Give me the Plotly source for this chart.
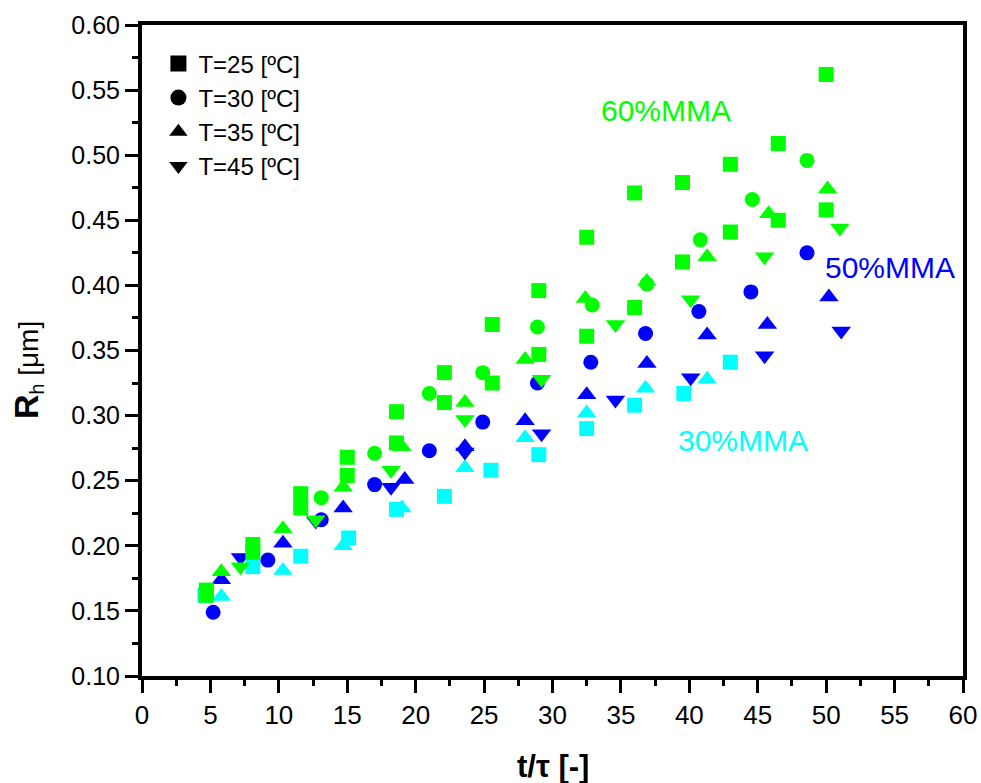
import plotly.graph_objects as go

# ---- data: hydrodynamic radius R_h [um] vs reduced time t/tau ----
# 60% MMA (green)
g60_sq_x = [4.7, 4.7, 8.1, 8.1, 11.6, 11.6, 15.0, 15.0, 18.6, 18.6, 22.1, 22.1, 25.6, 25.6,
            29.0, 29.0, 32.5, 32.5, 36.0, 36.0, 39.5, 39.5, 43.0, 43.0, 46.5, 46.5, 50.0, 50.0]
g60_sq_y = [0.166, 0.162, 0.201, 0.195, 0.240, 0.229, 0.268, 0.254, 0.303, 0.279, 0.333, 0.310,
            0.370, 0.325, 0.396, 0.347, 0.437, 0.361, 0.471, 0.383, 0.479, 0.418, 0.493, 0.441,
            0.509, 0.450, 0.562, 0.458]
g60_ci_x = [13.1, 17.0, 21.0, 24.9, 28.9, 32.9, 36.9, 40.8, 44.6, 48.6]
g60_ci_y = [0.237, 0.271, 0.317, 0.333, 0.368, 0.385, 0.401, 0.435, 0.466, 0.496]
g60_tu_x = [5.8, 10.3, 14.7, 19.0, 23.6, 28.0, 32.4, 36.9, 41.3, 45.8, 50.1]
g60_tu_y = [0.180, 0.213, 0.245, 0.276, 0.310, 0.343, 0.390, 0.403, 0.422, 0.455, 0.474]
g60_td_x = [7.2, 12.7, 18.2, 23.6, 29.2, 34.6, 40.1, 45.5, 51.0]
g60_td_y = [0.184, 0.220, 0.258, 0.297, 0.328, 0.370, 0.389, 0.422, 0.444]

# 50% MMA (blue)
b50_ci_x = [5.2, 9.2, 13.1, 17.0, 21.0, 24.9, 28.9, 32.8, 36.8, 40.7, 44.5, 48.6]
b50_ci_y = [0.149, 0.189, 0.220, 0.247, 0.273, 0.295, 0.325, 0.341, 0.363, 0.380, 0.395, 0.425]
b50_tu_x = [5.8, 10.3, 14.7, 19.2, 23.6, 28.0, 32.5, 36.9, 41.3, 45.7, 50.2]
b50_tu_y = [0.174, 0.202, 0.229, 0.251, 0.276, 0.296, 0.316, 0.340, 0.362, 0.370, 0.391]
b50_td_x = [7.2, 12.7, 18.2, 23.6, 29.2, 34.6, 40.1, 45.5, 51.1]
b50_td_y = [0.191, 0.219, 0.245, 0.272, 0.286, 0.312, 0.329, 0.346, 0.365]

# 30% MMA (cyan)
c30_sq_x = [4.6, 8.1, 11.6, 15.1, 18.6, 22.1, 25.5, 29.0, 32.5, 36.0, 39.6, 43.0]
c30_sq_y = [0.162, 0.184, 0.192, 0.206, 0.228, 0.238, 0.258, 0.270, 0.290, 0.308, 0.317, 0.341]
c30_tu_x = [5.8, 10.3, 14.7, 19.0, 23.6, 28.0, 32.5, 36.8, 41.3]
c30_tu_y = [0.161, 0.181, 0.200, 0.229, 0.260, 0.283, 0.302, 0.321, 0.328]

legend_names = ["T=25 [ºC]", "T=30 [ºC]", "T=35 [ºC]", "T=45 [ºC]"]
legend_symbols = ["square", "circle", "triangle-up", "triangle-down"]

GREEN, BLUE, CYAN = "#00FF00", "#0000FF", "#00FFFF"
SIZES = {"square": 15, "circle": 15, "triangle-up": 17, "triangle-down": 17}
FONT = "Liberation Sans, Arial"

fig = go.Figure()


def add_points(x, y, color, symbol):
    fig.add_trace(go.Scatter(
        x=x, y=y, mode="markers", showlegend=False, hoverinfo="skip",
        marker=dict(symbol=symbol, size=SIZES[symbol], color=color,
                    line=dict(width=0)),
    ))


# draw order: cyan first, then blue, then green on top
add_points(c30_sq_x, c30_sq_y, CYAN, "square")
add_points(c30_tu_x, c30_tu_y, CYAN, "triangle-up")
add_points(b50_ci_x, b50_ci_y, BLUE, "circle")
add_points(b50_tu_x, b50_tu_y, BLUE, "triangle-up")
add_points(b50_td_x, b50_td_y, BLUE, "triangle-down")
add_points(g60_sq_x, g60_sq_y, GREEN, "square")
add_points(g60_ci_x, g60_ci_y, GREEN, "circle")
add_points(g60_tu_x, g60_tu_y, GREEN, "triangle-up")
add_points(g60_td_x, g60_td_y, GREEN, "triangle-down")

# black-symbol legend keyed by temperature
for name, sym in zip(legend_names, legend_symbols):
    fig.add_trace(go.Scatter(
        x=[None], y=[None], mode="markers", name=name,
        marker=dict(symbol=sym, size=16, color="black", line=dict(width=0)),
    ))

# composition labels
fig.add_annotation(x=38.3, y=0.5345, text="60%MMA", showarrow=False,
                   font=dict(color=GREEN, size=30))
fig.add_annotation(x=54.7, y=0.4134, text="50%MMA", showarrow=False,
                   font=dict(color=BLUE, size=30))
fig.add_annotation(x=43.9, y=0.2805, text="30%MMA", showarrow=False,
                   font=dict(color=CYAN, size=30))

# y-axis title, rotated
fig.add_annotation(xref="paper", yref="paper", x=-0.14, y=0.47,
                   xanchor="center", yanchor="middle", textangle=-90,
                   showarrow=False,
                   text="<b><span style='font-size:34px'>R</span></b>"
                        "<sub>h</sub> [μm]",
                   font=dict(family=FONT, size=28, color="black"))

# x-axis title
fig.add_annotation(xref="paper", yref="paper", x=0.5, y=-0.139,
                   xanchor="center", yanchor="middle", showarrow=False,
                   text="<b>t/τ [-]</b>",
                   font=dict(family=FONT, size=31, color="black"))

axis_common = dict(
    showgrid=False, zeroline=False, showline=True, linecolor="black",
    linewidth=4, mirror=True, ticks="outside", ticklen=13, tickwidth=3,
    tickcolor="black", automargin=False,
)

fig.update_xaxes(
    range=[0, 60], tickmode="linear", tick0=0, dtick=5,
    minor=dict(ticks="outside", ticklen=6, tickwidth=3, dtick=2.5,
               tickcolor="black"),
    tickfont=dict(family=FONT, size=26, color="black"),
    **axis_common,
)
fig.update_yaxes(
    range=[0.10, 0.60], tickmode="linear", tick0=0.10, dtick=0.05,
    tickformat=".2f",
    minor=dict(ticks="outside", ticklen=6, tickwidth=3, dtick=0.025,
               tickcolor="black"),
    tickfont=dict(family=FONT, size=25, color="black"),
    **axis_common,
)

fig.update_layout(
    width=981, height=783,
    margin=dict(l=142, r=18, t=25, b=107),
    paper_bgcolor="white", plot_bgcolor="white",
    font=dict(family=FONT, color="black"),
    legend=dict(x=0.02, y=0.975, xanchor="left", yanchor="top",
                bgcolor="rgba(0,0,0,0)", font=dict(size=24, color="black"),
                tracegroupgap=0, itemwidth=30),
)

fig.write_html("out.html")
